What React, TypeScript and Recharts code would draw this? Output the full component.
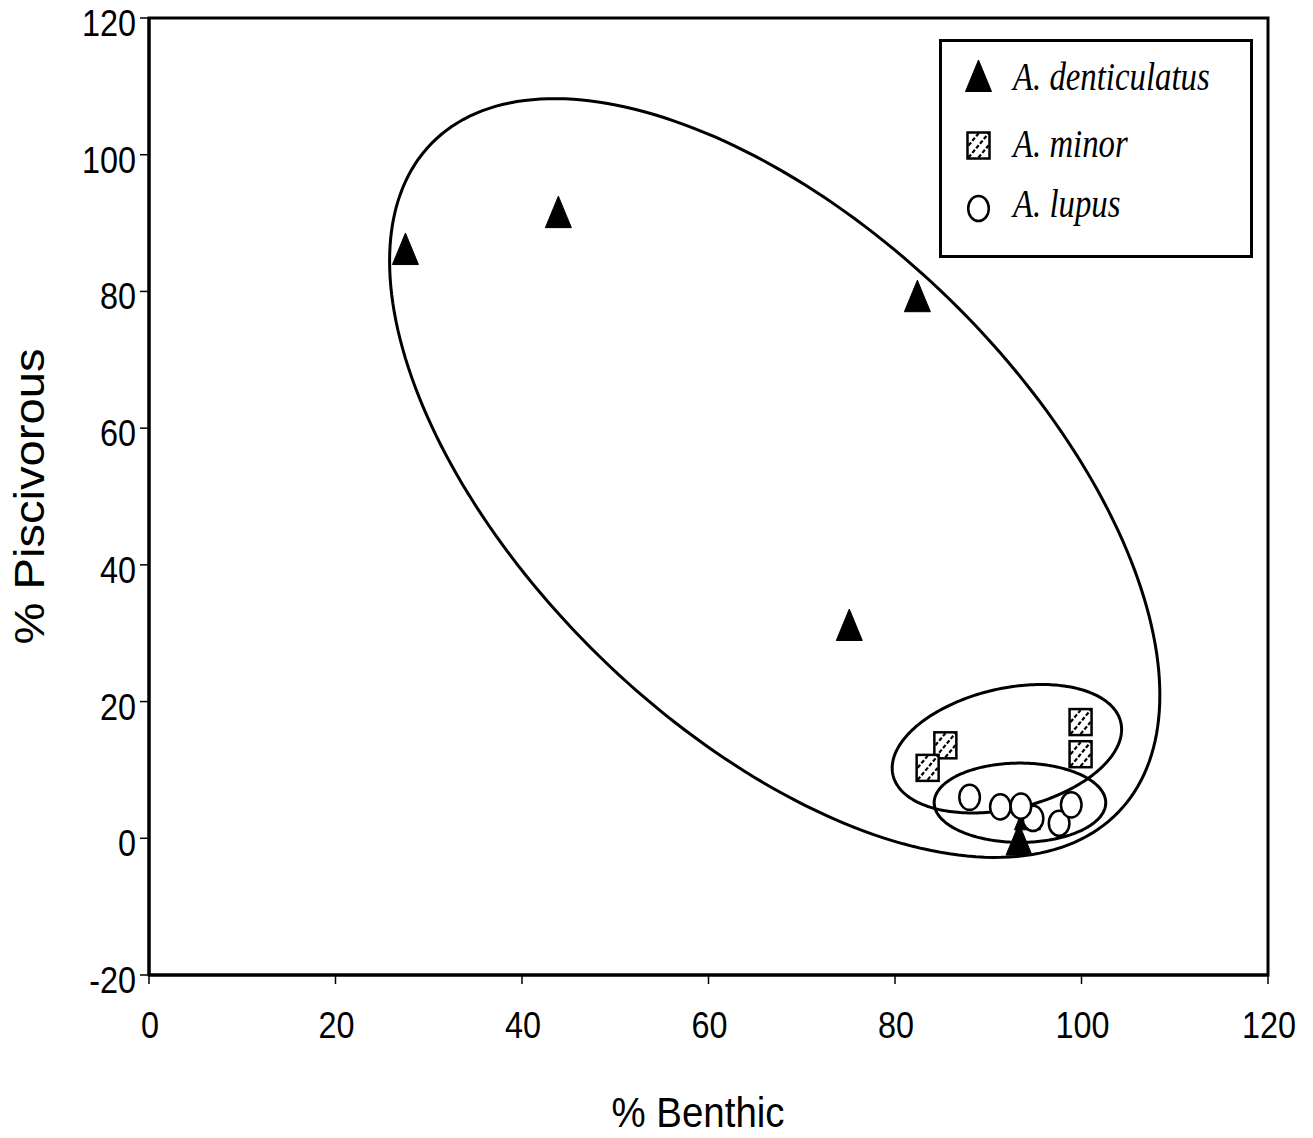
import React from 'react';
import { ScatterChart, Scatter, XAxis, YAxis, ReferenceArea, Legend } from 'recharts';

const xTicks = [0, 20, 40, 60, 80, 100, 120];
const yTicks = [-20, 0, 20, 40, 60, 80, 100, 120];

const seriesNames = ['A. denticulatus', 'A. minor', 'A. lupus'];

const denticulatusX = [27.5, 43.9, 82.4, 75.1, 93.3, 94.2];
const denticulatusY = [86.2, 91.6, 79.3, 31.2, -0.2, 3.5];
const minorX = [85.4, 83.5, 99.9, 99.9];
const minorY = [13.6, 10.3, 17.0, 12.3];
const lupusX = [94.8, 97.6, 88.0, 91.3, 93.5, 98.9];
const lupusY = [2.9, 2.2, 6.0, 4.6, 4.7, 4.9];

// grouping ellipses: centre, half extents along x / y, correlation
const ellipseCX = [67.1, 92.0, 93.4];
const ellipseCY = [52.7, 13.1, 5.2];
const ellipseHX = [41.3, 12.3, 9.2];
const ellipseHY = [55.5, 9.4, 5.8];
const ellipseRho = [-0.572, 0.3, 0.0];

const toPoints = (xs: number[], ys: number[]) => xs.map((x, i) => ({ x, y: ys[i] }));
const denticulatus = toPoints(denticulatusX, denticulatusY);
const minor = toPoints(minorX, minorY);
const lupus = toPoints(lupusX, lupusY);

const SANS = '"Liberation Sans", Arial, sans-serif';
const SERIF = '"Liberation Serif", "Times New Roman", serif';

const W = 1313;
const H = 1138;

// condensed width of a numeric label (Arial advance widths, squeezed to 90%)
const tickTextLength = (s: string) =>
  s.split('').reduce((a, c) => a + (c === '-' ? 0.333 : 0.556), 0) * 36 * 0.9;

const Triangle = ({ cx, cy }: any) => (
  <polygon
    points={`${cx},${cy - 16} ${cx - 13},${cy + 15.5} ${cx + 13},${cy + 15.5}`}
    fill="#000"
    stroke="#000"
    strokeWidth={1}
    strokeLinejoin="round"
  />
);

const HatchSquare = ({ cx, cy }: any) => {
  const w = 22;
  const h = 26;
  const x0 = cx - w / 2;
  const y0 = cy - h / 2;
  const x1 = x0 + w;
  const y1 = y0 + h;
  return (
    <g>
      <rect x={x0} y={y0} width={w} height={h} fill="#fff" stroke="#000" strokeWidth={2.5} />
      <g stroke="#000" strokeWidth={2.2} strokeDasharray="4 2">
        <line x1={x0 + 1} y1={y1 - 1} x2={x1 - 1} y2={y0 + 1} />
        <line x1={x0 + 1} y1={y0 + h / 2} x2={x0 + w / 2} y2={y0 + 1} />
        <line x1={x0 + w / 2} y1={y1 - 1} x2={x1 - 1} y2={y0 + h / 2} />
      </g>
    </g>
  );
};

const OpenCircle = ({ cx, cy }: any) => (
  <ellipse cx={cx} cy={cy} rx={10.3} ry={12.6} fill="#fff" stroke="#000" strokeWidth={2.5} />
);

const makeEllipseShape = (rho: number) => (props: any) => {
  const { x, y, width, height } = props;
  const cx = x;
  const cy = y + height;
  const s = Math.sqrt(1 - rho * rho);
  let d = '';
  const n = 240;
  for (let i = 0; i <= n; i++) {
    const t = (i / n) * 2 * Math.PI;
    const px = cx + width * Math.cos(t);
    const py = cy - height * (rho * Math.cos(t) + s * Math.sin(t));
    d += (i ? 'L' : 'M') + px.toFixed(2) + ',' + py.toFixed(2);
  }
  return <path d={d + 'Z'} fill="none" stroke="#000" strokeWidth={3} />;
};

const YTick = ({ x, y, payload }: any) => {
  const label = String(payload.value);
  return (
    <text
      x={x - 2}
      y={y + 18}
      textAnchor="end"
      fontFamily={SANS}
      fontSize={36}
      fill="#000"
      textLength={tickTextLength(label)}
      lengthAdjust="spacingAndGlyphs"
    >
      {label}
    </text>
  );
};

const XTick = ({ x, y, payload }: any) => {
  const label = String(payload.value);
  return (
    <text
      x={x + 1}
      y={y + 52}
      textAnchor="middle"
      fontFamily={SANS}
      fontSize={36}
      fill="#000"
      textLength={tickTextLength(label)}
      lengthAdjust="spacingAndGlyphs"
    >
      {label}
    </text>
  );
};

const LegendContent = () => (
  <svg width={314} height={219} style={{ display: 'block' }}>
    <rect x={1.5} y={1.5} width={311} height={216} fill="#fff" stroke="#000" strokeWidth={3} />
    <Triangle cx={39.5} cy={37} />
    <HatchSquare cx={39.5} cy={106.5} />
    <OpenCircle cx={39.5} cy={169.5} />
    {seriesNames.map((name, i) => (
      <text
        key={name}
        transform={`translate(74,${[51, 118, 178][i]}) scale(0.8,1)`}
        fontFamily={SERIF}
        fontStyle="italic"
        fontSize={41}
        fill="#000"
      >
        {name}
      </text>
    ))}
  </svg>
);

export default function App() {
  return (
    <div style={{ position: 'relative', width: W, height: H, margin: -8 }}>
      <ScatterChart
        width={W}
        height={H}
        margin={{ top: 18, right: 45, bottom: 103, left: 0 }}
      >
        <XAxis
          type="number"
          dataKey="x"
          domain={[0, 120]}
          ticks={xTicks}
          allowDataOverflow
          height={60}
          axisLine={{ stroke: '#000', strokeWidth: 3 }}
          tickLine={{ stroke: '#000', strokeWidth: 1.5 }}
          tickSize={9}
          tick={<XTick />}
          interval={0}
        />
        <YAxis
          type="number"
          dataKey="y"
          domain={[-20, 120]}
          ticks={yTicks}
          allowDataOverflow
          width={149}
          axisLine={{ stroke: '#000', strokeWidth: 3 }}
          tickLine={{ stroke: '#000', strokeWidth: 1.5 }}
          tickSize={9}
          tick={<YTick />}
          interval={0}
        />
        <ReferenceArea
          x1={0}
          x2={120}
          y1={-20}
          y2={120}
          fill="none"
          fillOpacity={0}
          stroke="#000"
          strokeWidth={3}
        />
        {ellipseCX.map((cx, i) => (
          <ReferenceArea
            key={'ell' + i}
            x1={cx}
            x2={cx + ellipseHX[i]}
            y1={ellipseCY[i]}
            y2={ellipseCY[i] + ellipseHY[i]}
            shape={makeEllipseShape(ellipseRho[i])}
          />
        ))}
        <Scatter name={seriesNames[0]} data={denticulatus} shape={<Triangle />} isAnimationActive={false} />
        <Scatter name={seriesNames[1]} data={minor} shape={<HatchSquare />} isAnimationActive={false} />
        <Scatter name={seriesNames[2]} data={lupus} shape={<OpenCircle />} isAnimationActive={false} />
        <Legend
          content={<LegendContent />}
          layout="vertical"
          align="center"
          verticalAlign="middle"
          wrapperStyle={{ left: 939, top: 39, width: 314, height: 219 }}
        />
      </ScatterChart>
      <svg
        width={W}
        height={H}
        style={{ position: 'absolute', left: 0, top: 0, pointerEvents: 'none' }}
      >
        <text
          x={698}
          y={1127}
          textAnchor="middle"
          fontFamily={SANS}
          fontSize={42}
          fill="#000"
          textLength={173}
          lengthAdjust="spacingAndGlyphs"
        >
          % Benthic
        </text>
        <text
          x={496.5}
          y={44}
          transform="rotate(-90) translate(-993,0)"
          textAnchor="middle"
          fontFamily={SANS}
          fontSize={43}
          fill="#000"
          textLength={296}
          lengthAdjust="spacingAndGlyphs"
        >
          % Piscivorous
        </text>
      </svg>
    </div>
  );
}
